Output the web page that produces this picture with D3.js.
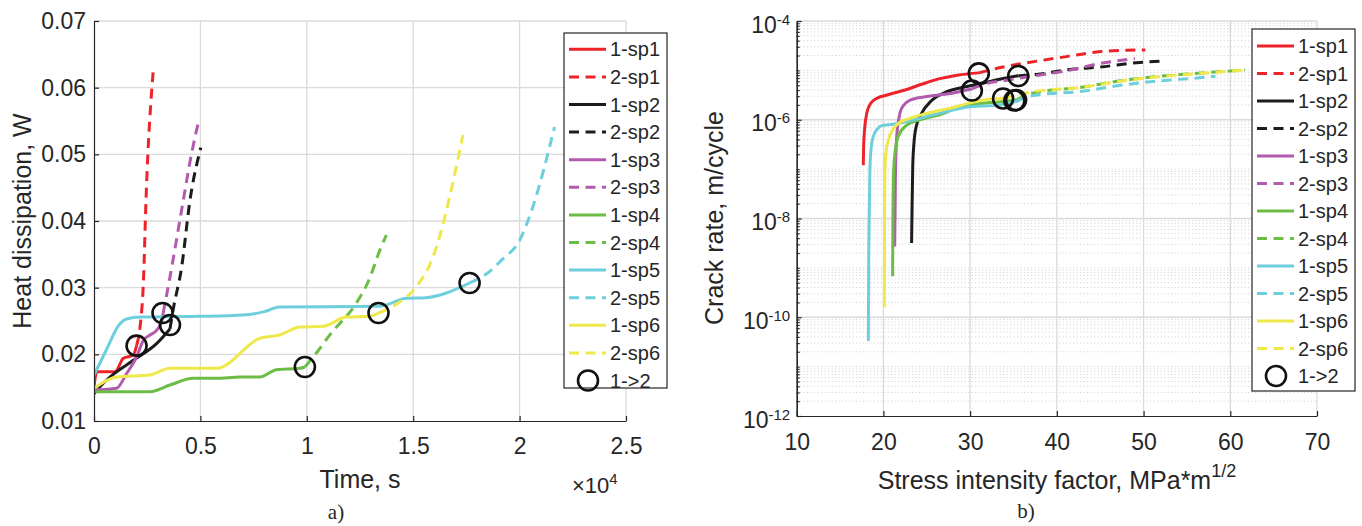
<!DOCTYPE html>
<html><head><meta charset="utf-8">
<script src="https://cdn.jsdelivr.net/npm/d3@7"></script>
<style>
body{margin:0;background:#fff}
text{font-family:"Liberation Sans",Arial,Helvetica,sans-serif;fill:#262626}
</style>
</head><body>
<svg id="c" width="1362" height="526"></svg>
<script>
// ---------------- DATA ----------------
const seriesLabels = ["1-sp1","2-sp1","1-sp2","2-sp2","1-sp3","2-sp3","1-sp4","2-sp4","1-sp5","2-sp5","1-sp6","2-sp6","1->2"];
const specimenColors = ["#ee2229","#1c1c1c","#b25bae","#6cbd45","#6ecfdc","#eee84a"];

// (a) Heat dissipation, W vs time, s
const heat_1sp1 = [[0,0.0151],[130,0.0174],[990,0.0174],[1380,0.0194],[1850,0.0199],[2000,0.0213]];
const heat_2sp1 = [[2000,0.0213],[2160,0.0240],[2320,0.0307],[2450,0.0437],[2780,0.0624]];
const heat_1sp2 = [[0,0.0141],[300,0.0152],[750,0.0166],[1850,0.0191],[2940,0.0216],[3570,0.0238]];
const heat_2sp2 = [[3570,0.0238],[3720,0.0267],[4120,0.0331],[4510,0.0431],[5020,0.0510]];
const heat_1sp3 = [[0,0.0149],[300,0.0147],[1060,0.0149],[1530,0.0171],[2000,0.0196],[2320,0.0221],[2630,0.0229],[2940,0.0236],[3180,0.0249],[3250,0.0262]];
const heat_2sp3 = [[3250,0.0262],[3570,0.0316],[4120,0.0417],[4590,0.0502],[4940,0.0553]];
const heat_1sp4 = [[0,0.0144],[2630,0.0144],[3570,0.0154],[4660,0.0164],[5760,0.0164],[6850,0.0166],[7790,0.0166],[8580,0.0177],[9670,0.0179],[9910,0.0181]];
const heat_2sp4 = [[9910,0.0181],[10400,0.0200],[11100,0.0230],[12330,0.0277],[12900,0.0310],[13430,0.0356],[13740,0.0379]];
const heat_1sp5 = [[0,0.0169],[600,0.0208],[1150,0.0243],[1530,0.0253],[2200,0.0256],[5000,0.0257],[7000,0.0259],[8000,0.0264],[8700,0.0271],[13400,0.0272],[14680,0.0284],[15600,0.0285],[17650,0.0307]];
const heat_2sp5 = [[17650,0.0307],[18500,0.0322],[19140,0.0341],[20000,0.0371],[20620,0.0421],[21640,0.0541]];
const heat_1sp6 = [[0,0.0149],[1060,0.0166],[2630,0.0169],[3570,0.0179],[5760,0.0179],[7790,0.0224],[8730,0.0229],[9670,0.0241],[10770,0.0242],[11860,0.0256],[12960,0.0257],[13370,0.0262]];
const heat_2sp6 = [[13370,0.0262],[14200,0.0275],[15000,0.0296],[15930,0.0346],[17340,0.0529]];
const heatSwitch = [[2000,0.0213],[3570,0.0244],[3220,0.0262],[9910,0.0181],[17650,0.0307],[13370,0.0262]];

const timeTicks = [0,5000,10000,15000,20000,25000];
const timeTickLabels = ["0","0.5","1","1.5","2","2.5"];
const heatTicks = [0.01,0.02,0.03,0.04,0.05,0.06,0.07];
const heatTickLabels = ["0.01","0.02","0.03","0.04","0.05","0.06","0.07"];

// (b) Crack rate, m/cycle vs stress intensity factor, MPa*m^1/2
const crack_1sp1 = [[17.68,1.2e-7],[17.72,3.0e-7],[17.85,7.0e-7],[18.1,1.4e-6],[18.5,2.1e-6],[19.2,2.7e-6],[20.5,3.2e-6],[22.5,4.0e-6],[24.5,5.3e-6],[26.5,6.8e-6],[28.5,8.0e-6],[31.0,8.9e-6]];
const crack_2sp1 = [[31.0,8.9e-6],[33.8,1.17e-5],[36.1,1.38e-5],[41.1,1.9e-5],[45.0,2.4e-5],[48.0,2.55e-5],[50.2,2.6e-5]];
const crack_1sp2 = [[23.25,3.2e-9],[23.3,1.5e-8],[23.38,1.1e-7],[23.5,3.0e-7],[23.8,7.5e-7],[24.4,1.35e-6],[25.5,2.4e-6],[27.3,3.7e-6],[29.6,4.7e-6],[31.5,5.5e-6],[33.4,6.6e-6],[35.55,7.8e-6]];
const crack_2sp2 = [[35.55,7.8e-6],[37.7,8.3e-6],[41.1,1.02e-5],[45.0,1.17e-5],[49.6,1.45e-5],[52.5,1.55e-5]];
const crack_1sp3 = [[21.3,2.7e-9],[21.35,1.5e-8],[21.4,1.1e-7],[21.55,5.0e-7],[21.8,1.1e-6],[22.1,1.7e-6],[23.1,2.5e-6],[25.0,2.95e-6],[27.7,3.4e-6],[29.6,4.0e-6],[30.2,4.2e-6]];
const crack_2sp3 = [[30.2,4.2e-6],[31.5,5.2e-6],[34.2,6.3e-6],[38.1,8.1e-6],[41.1,9.8e-6],[45.0,1.38e-5],[49.0,1.74e-5]];
const crack_1sp4 = [[21.06,6.8e-10],[21.1,1.2e-8],[21.2,1.1e-7],[21.45,3.0e-7],[21.7,4.6e-7],[22.7,7.8e-7],[24.2,1.0e-6],[26.5,1.26e-6],[28.8,1.8e-6],[31.0,2.1e-6],[33.4,2.3e-6],[35.3,2.5e-6]];
const crack_2sp4 = [[35.3,2.5e-6],[37.3,3.5e-6],[43.1,4.6e-6],[46.9,6.0e-6],[50.8,7.3e-6],[56.5,8.8e-6],[61.7,1.02e-5]];
const crack_1sp5 = [[18.26,3.3e-11],[18.3,1e-9],[18.4,3e-8],[18.45,1.1e-7],[18.6,2.8e-7],[18.84,4.6e-7],[19.3,6.5e-7],[19.8,7.6e-7],[21.1,8.1e-7],[23.07,9.5e-7],[25.76,1.26e-6],[29.6,1.8e-6],[33.4,2.0e-6],[35.2,2.3e-6]];
const crack_2sp5 = [[35.2,2.3e-6],[37.3,3.1e-6],[43.1,3.8e-6],[47.0,4.9e-6],[50.8,5.9e-6],[56.5,7.1e-6],[58.3,7.6e-6]];
const crack_1sp6 = [[20.1,1.6e-10],[20.13,1e-8],[20.18,1.1e-7],[20.3,2.2e-7],[20.57,3.9e-7],[21.5,7.8e-7],[23.07,1.07e-6],[25.0,1.35e-6],[27.3,1.66e-6],[28.45,1.86e-6],[30.0,2.2e-6],[32.3,2.6e-6],[33.8,2.7e-6]];
const crack_2sp6 = [[33.8,2.7e-6],[37.3,3.7e-6],[43.1,4.6e-6],[46.9,5.9e-6],[50.8,7.2e-6],[56.5,8.7e-6],[61.7,1.02e-5]];
const crackSwitch = [[31.0,8.7e-6],[35.55,7.7e-6],[30.2,3.9e-6],[35.3,2.5e-6],[35.1,2.45e-6],[33.8,2.7e-6]];

const kTicks = [10,20,30,40,50,60,70];
const kTickLabels = ["10","20","30","40","50","60","70"];
const rateTicks = [1e-12,1e-10,1e-8,1e-6,1e-4];
const rateTickExponents = ["-12","-10","-8","-6","-4"];

// ---------------- DRAW ----------------
const svg = d3.select("#c");
svg.append("rect").attr("width",1362).attr("height",526).attr("fill","#fff");
const AXC = "#262626", GRID = "#dadada", LW = 3, DASH = "10,6.5";

function drawPanel(cfg){
  const {x, y, solids, dashes, switches, id} = cfg;
  const [x0,x1] = x.range(), [y0,y1] = y.range(); // y0 bottom, y1 top
  const g = svg.append("g");
  // grids
  if (cfg.minorY) {
    g.append("g").selectAll("line").data(cfg.minorY).join("line")
      .attr("x1",x0).attr("x2",x1).attr("y1",d=>y(d)).attr("y2",d=>y(d))
      .attr("stroke","#cccccc").attr("stroke-width",1).attr("stroke-dasharray","1,2.5");
  }
  g.append("g").selectAll("line").data(cfg.gridX).join("line")
    .attr("x1",d=>x(d)).attr("x2",d=>x(d)).attr("y1",y0).attr("y2",y1)
    .attr("stroke",GRID).attr("stroke-width",1.3);
  g.append("g").selectAll("line").data(cfg.gridY).join("line")
    .attr("x1",x0).attr("x2",x1).attr("y1",d=>y(d)).attr("y2",d=>y(d))
    .attr("stroke",GRID).attr("stroke-width",1.3);
  // clip
  svg.append("clipPath").attr("id",id).append("rect")
    .attr("x",x0).attr("y",y1).attr("width",x1-x0).attr("height",y0-y1);
  const line = d3.line().x(d=>x(d[0])).y(d=>y(d[1])).curve(d3.curveMonotoneX);
  const dg = g.append("g").attr("clip-path",`url(#${id})`);
  for (let i=0;i<6;i++){
    dg.append("path").attr("d",line(solids[i])).attr("fill","none")
      .attr("stroke",specimenColors[i]).attr("stroke-width",LW).attr("stroke-linejoin","round");
    dg.append("path").attr("d",line(dashes[i])).attr("fill","none")
      .attr("stroke",specimenColors[i]).attr("stroke-width",LW).attr("stroke-dasharray",DASH);
  }
  dg.append("g").selectAll("circle").data(switches).join("circle")
    .attr("cx",d=>x(d[0])).attr("cy",d=>y(d[1])).attr("r",10)
    .attr("fill","none").attr("stroke","#111").attr("stroke-width",2.6);
  return g;
}

// ----- panel a -----
const xA = d3.scaleLinear([0,25000],[94,626]);
const yA = d3.scaleLinear([0.01,0.07],[421,21]);
drawPanel({x:xA,y:yA,id:"clipA",
  solids:[heat_1sp1,heat_1sp2,heat_1sp3,heat_1sp4,heat_1sp5,heat_1sp6],
  dashes:[heat_2sp1,heat_2sp2,heat_2sp3,heat_2sp4,heat_2sp5,heat_2sp6],
  switches:heatSwitch, gridX:timeTicks.slice(1), gridY:heatTicks.slice(1)});

const axA_x = svg.append("g").attr("transform","translate(0,421)")
  .call(d3.axisBottom(xA).tickValues(timeTicks).tickFormat((d,i)=>timeTickLabels[i]).tickSize(-5).tickPadding(16.5).tickSizeOuter(0));
const axA_y = svg.append("g").attr("transform","translate(94,0)")
  .call(d3.axisLeft(yA).tickValues(heatTicks).tickFormat((d,i)=>heatTickLabels[i]).tickSize(-5).tickPadding(8).tickSizeOuter(0));
[axA_x,axA_y].forEach(a=>{
  a.select(".domain").attr("stroke",AXC).attr("stroke-width",1.2);
  a.selectAll(".tick line").attr("stroke",AXC).attr("stroke-width",1.2);
  a.selectAll(".tick text").attr("font-size",23).attr("fill",AXC).attr("font-family","Liberation Sans, Arial, sans-serif");
});
svg.append("text").attr("x",360).attr("y",488).attr("text-anchor","middle").attr("font-size",25).text("Time, s");
const ex = svg.append("text").attr("x",572).attr("y",493).attr("font-size",22);
ex.append("tspan").text("×10");
ex.append("tspan").attr("dy",-9).attr("font-size",15).text("4");
svg.append("text").attr("transform","translate(31,221) rotate(-90)").attr("text-anchor","middle").attr("font-size",25).text("Heat dissipation, W");
svg.append("text").attr("x",336).attr("y",519).attr("text-anchor","middle").attr("font-size",21)
  .attr("font-family","Liberation Serif, Times New Roman, serif").style("font-family","'Liberation Serif','Times New Roman',serif").text("a)");

// ----- panel b -----
const xB = d3.scaleLinear([10,70],[796.7,1317]);
const yB = d3.scaleLog([1e-12,1e-4],[416,21]);
const minorRate = [];
for (let e=-12;e<-4;e++) for (let k=1;k<10;k++){ const v=k*Math.pow(10,e); if(!(k===1 && e%2===0)) minorRate.push(v); }
drawPanel({x:xB,y:yB,id:"clipB",
  solids:[crack_1sp1,crack_1sp2,crack_1sp3,crack_1sp4,crack_1sp5,crack_1sp6],
  dashes:[crack_2sp1,crack_2sp2,crack_2sp3,crack_2sp4,crack_2sp5,crack_2sp6],
  switches:crackSwitch, gridX:kTicks.slice(1), gridY:rateTicks.slice(1), minorY:minorRate});

const axB_x = svg.append("g").attr("transform","translate(0,416)")
  .call(d3.axisBottom(xB).tickValues(kTicks).tickFormat((d,i)=>kTickLabels[i]).tickSize(-5).tickPadding(18).tickSizeOuter(0));
const axB_ym = svg.append("g").attr("transform","translate(796.7,0)")
  .call(d3.axisLeft(yB).tickValues(minorRate).tickFormat("").tickSize(-3).tickSizeOuter(0));
const axB_y = svg.append("g").attr("transform","translate(796.7,0)")
  .call(d3.axisLeft(yB).tickValues(rateTicks).tickFormat("").tickSize(-5).tickPadding(7).tickSizeOuter(0));
[axB_x,axB_y,axB_ym].forEach(a=>{
  a.select(".domain").attr("stroke",AXC).attr("stroke-width",1.2);
  a.selectAll(".tick line").attr("stroke",AXC).attr("stroke-width",1.2);
  a.selectAll(".tick text").attr("font-size",23).attr("fill",AXC).attr("font-family","Liberation Sans, Arial, sans-serif");
});
axB_y.selectAll(".tick text").each(function(d,i){
  const t = d3.select(this).attr("x",-6.5).attr("dy",null).attr("y",11).attr("text-anchor","end");
  t.append("tspan").text("10");
  t.append("tspan").attr("dy",-8).attr("font-size",15).text(rateTickExponents[i]);
});
const xl = svg.append("text").attr("x",1057).attr("y",489).attr("text-anchor","middle").attr("font-size",25);
xl.append("tspan").text("Stress intensity factor, MPa*m");
xl.append("tspan").attr("dy",-12).attr("font-size",18).text("1/2");
svg.append("text").attr("transform","translate(723,218) rotate(-90)").attr("text-anchor","middle").attr("font-size",25).text("Crack rate, m/cycle");
svg.append("text").attr("x",1026).attr("y",518).attr("text-anchor","middle").attr("font-size",21)
  .style("font-family","'Liberation Serif','Times New Roman',serif").text("b)");

// ----- legends -----
function legend(lx, ly, w, h, firstY, step){
  const g = svg.append("g");
  g.append("rect").attr("x",lx).attr("y",ly).attr("width",w).attr("height",h)
    .attr("fill","#fff").attr("stroke",AXC).attr("stroke-width",1.2);
  seriesLabels.forEach((lab,i)=>{
    const yy = firstY + i*step;
    if (i<12){
      g.append("line").attr("x1",lx+5).attr("x2",lx+42).attr("y1",yy).attr("y2",yy)
        .attr("stroke",specimenColors[Math.floor(i/2)]).attr("stroke-width",LW)
        .attr("stroke-dasharray", i%2 ? DASH : null);
    } else {
      g.append("circle").attr("cx",lx+24).attr("cy",yy).attr("r",10).attr("fill","none")
        .attr("stroke","#111").attr("stroke-width",2.6);
    }
    g.append("text").attr("x",lx+46).attr("y",yy).attr("dy","0.35em").attr("font-size",20).text(lab);
  });
}
legend(564,33,103,355,49.3,27.6);
legend(1252,29,103,362,46,27.5);
</script>
</body></html>
